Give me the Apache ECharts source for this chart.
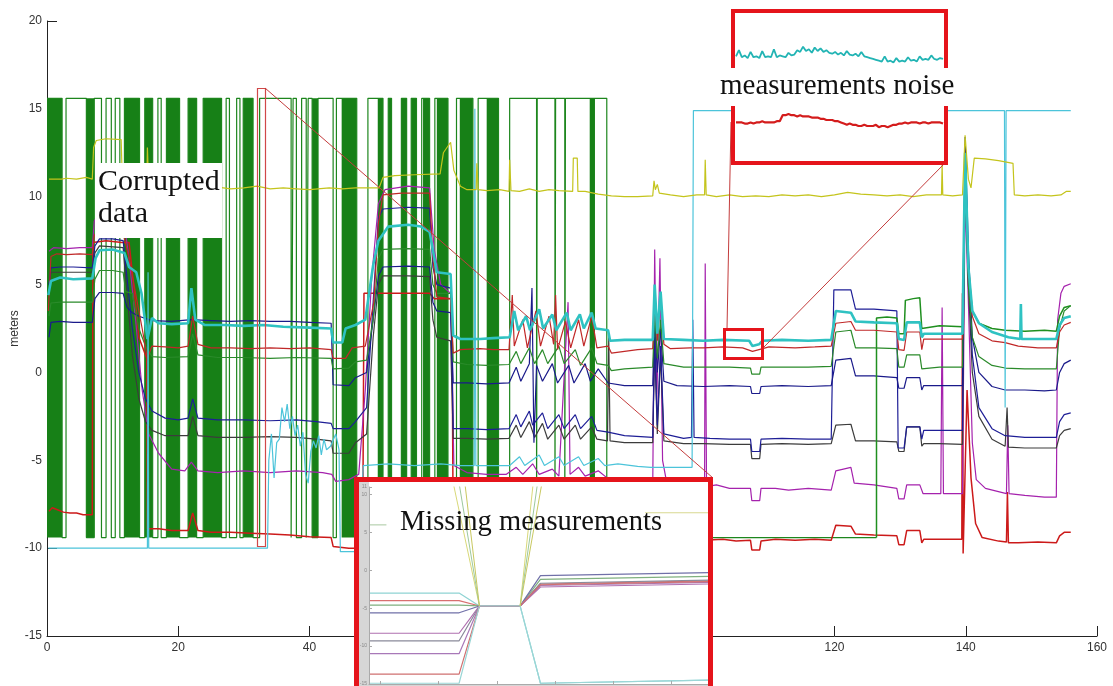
<!DOCTYPE html>
<html>
<head>
<meta charset="utf-8">
<script src="https://cdn.jsdelivr.net/npm/echarts@6/dist/echarts.min.js"></script>
<style>
html,body{margin:0;padding:0;background:#fff;}
#chart{width:1113px;height:686px;}
</style>
</head>
<body>
<div id="chart"></div>
<script>
// ---------- main plot data (x: time, y: meters) ----------
const corruptHigh = 15.6;
const corruptLow = -9.4;

// corrupted sensor: level holds from each x until the next entry
const corruptSteps = [[0,15.6],[2.3,-9.4],[2.9,15.6],[6.0,-9.4],[7.2,15.6],[8.3,-9.4],[9.0,15.6],[9.8,-9.4],[10.4,15.6],[11.1,-9.4],[11.8,15.6],[14.1,-9.4],[14.9,15.6],[16.1,-9.4],[16.9,15.6],[17.4,-9.4],[18.2,15.6],[20.2,-9.4],[21.5,15.6],[22.8,-9.4],[23.8,15.6],[26.6,-9.4],[27.3,15.6],[27.8,-9.4],[28.9,15.6],[29.4,-9.4],[29.9,15.6],[31.4,-9.4],[32.4,15.6],[37.2,-9.4],[37.5,15.6],[38.0,-9.4],[38.8,15.6],[39.5,-9.4],[39.8,15.6],[40.4,-9.4],[41.3,15.6],[43.6,-9.4],[44.1,15.6],[47.2,-9.4],[48.9,15.6],[51.2,-9.4],[52.0,15.6],[52.5,-9.4],[54.0,15.6],[54.8,-9.4],[55.5,15.6],[56.3,-9.4],[57.1,15.6],[58.3,-9.4],[59.1,15.6],[61.1,-9.4],[62.4,15.6],[64.9,-9.4],[65.7,15.6],[68.8,-9.4],[70.5,15.6],[74.6,-9.4],[74.7,15.6],[77.4,-9.4],[77.5,15.6],[78.9,-9.4],[79.0,15.6],[85.3,-9.4],[126.4,-9.4]];

// stretches where the corrupted sensor toggles too fast to resolve
const corruptBursts = [[0,2.3],[6.0,7.2],[11.8,14.1],[14.9,16.1],[18.2,20.2],[21.5,22.8],[23.8,26.6],[29.9,31.4],[40.4,41.3],[44.9,47.2],[50.4,51.2],[52.0,52.5],[54.0,54.8],[55.5,56.3],[57.3,58.3],[59.4,61.1],[62.9,64.9],[67.0,68.8],[82.7,83.5]];

// same sensor once it recovers
const greenRecovered = [[126.4,-9.4],[126.4,3.1],[128,3.15],[129.5,3.1],[129.8,2.2],[130.6,2.2],[130.8,4.1],[132,4.2],[133,4.25],[133.3,2.5],[133.6,2.6],[136,2.65],[139.5,2.6],[139.9,11.5],[140.4,6],[141,3.5],[142,2.8],[144,2.5],[146,2.4],[149,2.35],[152,2.4],[153.8,2.35],[154.3,3.2],[155,3.7],[156,3.8]];

const yellowTrack = [[0.3,11.0],[2.2,11.0],[3,11.05],[4.5,11.0],[6,11.1],[6.9,11.0],[7.1,12.8],[7.5,13.2],[9,13.3],[11.3,13.25],[11.5,10.7],[14,10.6],[15.2,10.6],[15.3,12.8],[15.5,10.6],[18,10.6],[22,10.5],[26,10.55],[28,10.45],[30,10.5],[32,10.6],[34,10.45],[36,10.5],[38,10.45],[40,10.4],[43,10.5],[45,10.45],[47,10.5],[50.6,10.5],[51.2,11.1],[53,11.2],[56,11.25],[59.9,11.3],[60.4,12.5],[61.5,13.1],[62,11.5],[63,10.6],[64,10.4],[65.4,10.4],[65.5,11.9],[65.7,10.4],[67,10.35],[69,10.4],[70.4,10.3],[70.5,12.1],[70.7,10.35],[72,10.3],[73.5,10.45],[75,10.3],[76.5,10.4],[78,10.35],[80.1,10.3],[80.2,12.2],[80.8,12.2],[80.9,10.3],[82,10.3],[84,10.15],[86,10.05],[88,10.0],[90,10.0],[92.3,10.05],[92.5,10.9],[92.7,10.4],[93,10.7],[93.3,10.2],[95,10.1],[97,10.0],[99,10.1],[100.2,10.1],[100.3,12.1],[100.45,10.1],[102,10.0],[104,10.1],[106,10.0],[108,10.05],[110,10.0],[112,10.1],[114,10.05],[116,10.1],[118,10.0],[120,10.1],[122,10.25],[124,10.15],[126,10.1],[128,10.05],[130,10.1],[132,10.0],[134,10.1],[136.3,10.1],[136.4,11.8],[136.5,10.1],[138,10.05],[139.5,10.1],[139.9,13.5],[140.4,11],[140.8,10.5],[141.3,12.2],[143,12.15],[145,12.05],[147.2,11.9],[147.4,10.1],[149,10.05],[151,10.1],[153,10.05],[154.5,10.1],[155.3,10.3],[156,10.3]];

const cyanThick = [[0.2,4.4],[0.6,5.2],[2,5.4],[4,5.3],[6.9,5.35],[7.4,6.5],[8,6.95],[10,7.0],[11.8,6.8],[12.5,6],[13.6,5.7],[14.4,4.5],[15.3,1.9],[16,3.1],[17,2.8],[19,2.75],[21.5,2.8],[22,4.8],[22.6,3.0],[24,2.7],[27,2.7],[30,2.65],[33,2.7],[36,2.6],[40,2.55],[43.3,2.5],[43.6,1.7],[45,1.7],[45.5,2.5],[47,2.7],[48.5,3],[49.7,6.1],[50.5,7.5],[52,8.3],[55,8.4],[57,8.3],[58.3,8.0],[59.4,5.7],[61.5,5.6],[61.9,2.1],[63,1.9],[66,1.9],[68,1.95],[70.5,2.0],[71.2,3.5],[71.8,2.4],[73,3.2],[73.6,2.4],[75,3.6],[75.6,2.5],[77,3.3],[77.6,2.4],[79.2,3.4],[79.8,2.4],[81.2,3.3],[81.8,2.5],[83,3.4],[83.6,2.5],[85.5,2.4],[85.8,1.8],[88,1.85],[91,1.85],[92.3,1.85],[92.6,5],[93,2.2],[93.5,4.6],[94,1.9],[97,1.85],[100,1.8],[103,1.85],[107,1.8],[107.5,1.5],[108.5,1.6],[109,1.8],[112,1.85],[116,1.8],[119.5,1.85],[120.2,3.5],[122.5,3.4],[123.2,2.9],[126,2.85],[129.5,2.8],[129.8,1.9],[130.6,1.85],[131,2.85],[133,2.85],[133.3,2.0],[133.6,2.2],[136,2.2],[139.5,2.2],[139.9,12.5],[140.4,6],[141,3.5],[142,2.8],[144,2.3],[146.5,2.0],[148.3,1.9],[148.4,3.9],[148.5,1.9],[151,1.9],[153.8,1.9],[154.3,2.7],[155,3.1],[156,3.2]];

const cyanThin = [[0.2,-10],[5,-10],[10,-10],[15.3,-10],[15.4,5.7],[15.5,-10],[20,-10],[25,-10],[30,-10],[33.6,-10],[33.8,-5],[34.2,-3.5],[34.6,-6],[35,-4],[35.4,-3.8],[35.8,-2],[36.2,-2.8],[36.6,-1.8],[37,-3.2],[37.4,-2.5],[37.8,-3.6],[38.2,-3.0],[38.6,-4.2],[39,-3.4],[39.4,-5.8],[39.8,-6.3],[40.2,-4.5],[40.6,-3.9],[41,-4.3],[41.4,-3.6],[41.8,-4.7],[42.2,-3.8],[42.6,-4.4],[43.2,-4.2],[44,-3.5],[44.5,-4.4],[44.7,-10.2],[47.5,-10.2],[48.2,-5.3],[52,-5.2],[56,-5.3],[60,-5.2],[63,-5.3],[65.1,-5.3],[65.2,15],[65.35,-5.3],[68,-5.3],[70.5,-5.3],[72,-4.8],[72.8,-5.3],[75,-4.7],[75.8,-5.3],[78,-4.8],[78.8,-5.3],[81,-4.8],[81.8,-5.3],[84,-4.9],[85,-5.3],[87,-5.2],[90,-5.35],[92,-5.4],[95,-5.4],[98.3,-5.4],[98.5,14.9],[110,14.9],[120,14.9],[130,14.9],[140,14.9],[145.9,14.9],[146,-2],[146.15,14.9],[150,14.9],[156,14.9]];

const redUpper = [[0.2,3.5],[0.6,6.6],[1.5,6.75],[3,6.7],[5,6.75],[6.9,6.7],[7.2,7.8],[8,8.2],[10,8.3],[11.5,8.1],[12.5,6.5],[13.5,4.5],[14.5,2.5],[15.3,0.8],[16,1.5],[18,1.45],[20,1.4],[21.5,1.5],[22.2,3.2],[23,1.6],[25,1.4],[28,1.4],[31,1.35],[34,1.4],[37,1.35],[40,1.4],[43.3,1.3],[43.6,0.8],[45.5,0.8],[46.5,1.4],[48.5,1.5],[49.8,4],[50.5,8.5],[51.2,10.1],[54,10.2],[58.3,10.2],[58.8,6.5],[59.4,4.3],[61.5,4.2],[61.9,1.1],[63,1.3],[66,1.35],[68,1.3],[70.4,1.3],[70.9,4.4],[71.2,1.5],[72.5,3],[73.2,1.4],[74.5,3.5],[75.2,1.5],[76.5,3.2],[77.2,1.6],[77.5,4.4],[77.8,1.3],[79,2.9],[79.8,1.4],[81,3.0],[81.8,1.5],[83,3.2],[83.8,1.4],[85.5,1.5],[86,1.1],[88,1.2],[90,1.3],[92.3,1.35],[92.6,4.5],[93,1.8],[93.5,4.2],[94,1.6],[95,1.35],[98,1.4],[100,1.4],[103,1.45],[106,1.4],[107.5,1.2],[108.5,1.3],[110,1.45],[114,1.4],[117,1.45],[119.5,1.5],[120.2,2.8],[122.5,2.9],[123.2,2.4],[126,2.4],[129.5,2.3],[129.8,1.3],[130.6,1.25],[131,2.3],[133,2.3],[133.3,1.3],[133.6,1.9],[136,1.9],[139.5,1.9],[139.9,11.5],[140.4,6],[141,3.2],[142,2.2],[144,1.8],[146,1.7],[148,1.5],[151,1.4],[153.8,1.4],[154.3,2.3],[155,2.7],[156,2.85]];

const greenLevel = [[0.3,3.2],[0.6,3.95],[2,4.0],[4,4.0],[6.9,4.0],[7.3,5.3],[8,5.8],[10,5.8],[11.6,5.7],[12,4.6],[13,4.5],[14,2.5],[15,1.5],[16,0.9],[18,0.85],[21.5,0.9],[22.2,2.2],[23,1.0],[26,0.85],[30,0.85],[34,0.8],[38,0.85],[43.3,0.8],[43.6,0.2],[46,0.25],[47,0.6],[48.7,0.7],[49.7,3],[50.5,6.5],[51.2,7.0],[55,7.05],[58.3,7.0],[58.8,5],[59.4,4.5],[61.5,4.5],[61.9,0.6],[64,0.45],[67,0.4],[70.4,0.45],[71.5,1.2],[72.2,0.5],[73.5,1.4],[74.3,0.5],[75.5,1.3],[76.3,0.5],[78,1.5],[78.8,0.5],[80.5,1.3],[81.3,0.4],[83,1.4],[83.8,0.5],[85.5,0.4],[86,0.1],[88,0.2],[92.3,0.3],[92.6,3.5],[93,0.8],[93.5,3],[94,0.5],[97,0.3],[100,0.3],[104,0.3],[107.2,0.25],[107.4,-0.1],[108.6,-0.1],[108.8,0.3],[112,0.3],[116,0.3],[119.5,0.35],[120.2,2.3],[122.5,2.4],[123.2,1.4],[126,1.4],[129.5,1.35],[129.8,0.3],[130.6,0.3],[131,1.0],[133,1.0],[133.3,0.2],[133.6,0.3],[136,0.3],[139.5,0.3],[139.9,11],[140.4,5],[141,2],[142,0.9],[144,0.4],[146,0.25],[149,0.2],[152,0.2],[153.8,0.2],[154.3,2.5],[155,3.5],[156,3.8]];

const navyUpper = [[0.3,2.0],[0.6,2.85],[2,2.9],[4,2.85],[6.9,2.85],[7.3,4.2],[8,4.55],[10,4.55],[11.6,4.5],[12.2,3.7],[13,3.4],[14,3.2],[16,2.95],[19,2.9],[22,3.0],[25,2.95],[28,2.9],[31,2.95],[34,2.9],[37,2.9],[40,2.85],[43.3,2.8],[43.6,-0.7],[46,-0.75],[47,-0.3],[48.7,0],[49.7,3],[50.5,5.5],[51.2,6.0],[55,6.05],[58.3,6.0],[58.8,4],[59.4,3.5],[61.5,3.4],[61.9,-0.6],[64,-0.6],[67,-0.65],[70.4,-0.6],[71.5,0.3],[72.2,-0.5],[73.5,0.5],[73.9,4.8],[74.2,-4],[74.6,0.4],[75.5,-0.5],[77,0.5],[77.8,-0.6],[79.5,0.4],[80.3,-0.6],[82,0.5],[82.8,-0.5],[84,0.2],[85.5,-0.6],[88,-0.75],[92.3,-0.75],[92.6,3],[93,0],[93.5,2.5],[94,-0.5],[96,-0.75],[100,-0.8],[104,-0.75],[107.2,-0.8],[107.4,-1.2],[108.6,-1.2],[108.8,-0.8],[112,-0.75],[116,-0.8],[119.5,-0.75],[120.2,0.7],[122.5,0.8],[123.2,-0.2],[126,-0.2],[129.5,-0.3],[129.8,-0.9],[130.6,-0.9],[131,-0.3],[133,-0.3],[133.3,-1],[133.6,-0.75],[136,-0.75],[139.5,-0.75],[139.9,13.4],[140.4,7],[141,2],[142,0],[144,-0.8],[146,-1.0],[149,-1.0],[152,-1.05],[153.8,-1.0],[154.3,0],[155,0.5],[156,0.7]];

const navyLower = [[0.3,5],[0.6,5.95],[2,6.0],[4,6.0],[6.9,5.95],[7.3,7.2],[8,7.6],[10,7.6],[11.6,7.5],[12.3,5],[13,2.5],[14,0],[15,-1.5],[16,-2.2],[18,-2.6],[20,-2.7],[21.5,-2.6],[22.2,-1.5],[23,-2.6],[26,-2.7],[30,-2.7],[34,-2.75],[38,-2.7],[41,-2.8],[43.3,-2.9],[43.6,-3.2],[46,-3.2],[47,-2.8],[48.7,-2],[49.7,4],[50.5,8.8],[51.2,9.3],[55,9.4],[58.3,9.35],[58.8,6],[59.4,5],[61.5,4.8],[61.9,-3.2],[64,-3.2],[67,-3.25],[70.4,-3.2],[71.5,-2.4],[72.2,-3.1],[73.5,-2.2],[74,-3],[75.5,-2.3],[76.3,-3.2],[78,-2.4],[78.8,-3.2],[80.5,-2.4],[81.3,-3.2],[83,-2.5],[83.8,-3.3],[85.5,-3.4],[88,-3.6],[92.3,-3.7],[92.6,2],[93,-3],[93.5,1.5],[94,-3.5],[97,-3.75],[98.2,-3.7],[98.4,3],[98.6,-3.7],[101,-3.75],[104,-3.8],[107.2,-3.8],[107.4,-4.5],[108.6,-4.5],[108.8,-3.8],[112,-3.75],[116,-3.8],[119.5,-3.8],[119.9,4.7],[122.5,4.7],[123.2,3.6],[126,3.6],[129.5,3.5],[129.7,-4.3],[130.6,-4.3],[131,-3.1],[133,-3.1],[133.3,-3.8],[133.6,-3.3],[136,-3.3],[139.5,-3.3],[139.9,13],[140.4,6],[141,1],[142,-2],[144,-3.2],[146,-3.6],[149,-3.7],[152,-3.7],[153.8,-3.7],[154.3,-2.8],[155,-2.4],[156,-2.3]];

const greyTrack = [[0.3,5],[0.6,5.7],[3,5.7],[6.9,5.7],[7.3,6.8],[8,7.2],[11.6,7.1],[12.3,4],[13,1],[14,-1.5],[15,-2.8],[16,-3.3],[18,-3.6],[21.5,-3.6],[22.2,-2.5],[23,-3.6],[26,-3.7],[30,-3.7],[34,-3.65],[38,-3.7],[41,-3.8],[43.3,-3.9],[43.6,-4.6],[46,-4.6],[47,-4],[48.7,-3.5],[49.7,2],[50.5,5],[51.2,5.5],[55,5.5],[58.3,5.45],[58.8,3],[59.4,2],[61.5,1.8],[61.9,-3.75],[64,-3.75],[67,-3.8],[70.4,-3.75],[71.5,-3.0],[72.2,-3.7],[73.5,-2.8],[74.3,-3.7],[75.5,-2.9],[76.3,-3.8],[78,-3],[78.8,-3.8],[80.5,-3],[81.3,-3.8],[83,-3.1],[83.8,-3.8],[85.4,-3.9],[85.6,2],[85.8,-3.9],[88,-4],[92.3,-4.0],[92.6,1.5],[93,-3.5],[93.5,1],[94,-3.9],[97,-4.05],[100,-4.05],[104,-4.1],[107.2,-4.1],[107.4,-4.9],[108.6,-4.9],[108.8,-4.1],[112,-4.05],[116,-4.1],[119.5,-4.05],[120.2,-3.0],[122.5,-2.95],[123.2,-3.9],[126,-3.9],[129.5,-3.95],[129.8,-4.5],[130.6,-4.5],[131,-3.1],[133,-3.1],[133.3,-4.2],[133.6,-4.05],[136,-4.05],[139.5,-4.1],[139.9,12],[140.4,5],[141,0],[142,-2.5],[144,-3.8],[146,-4.2],[146.3,-2.0],[146.5,-4.25],[149,-4.3],[152,-4.3],[153.8,-4.3],[154.3,-3.6],[155,-3.3],[156,-3.2]];

const magentaTrack = [[0.3,6.9],[1,7.1],[3,7.05],[5,7.1],[6.9,7.1],[7.2,8.6],[8,9.2],[10,9.3],[11.5,9.2],[12.5,6.5],[13.5,3],[14.5,-1],[15.5,-3.5],[17,-4.6],[19,-5.5],[21,-5.6],[22,-5.1],[23,-5.6],[26,-5.7],[30,-5.6],[34,-5.7],[38,-5.6],[42,-5.7],[43.4,-5.8],[44,-6.2],[46,-6.1],[47.5,-5.8],[48.5,-1],[49.5,5.5],[50.5,9.6],[51.5,10.4],[55,10.6],[58.3,10.5],[59,7],[60,5],[61.5,4.5],[62,-5.3],[64,-5.7],[67,-5.8],[70,-5.8],[71.5,-5.4],[72.5,-5.8],[74,-5.2],[75,-5.8],[77,-5.5],[78,-5.9],[79.4,4.0],[79.7,-5.8],[81,-5.4],[82,-5.9],[84,-5.6],[86,-6.2],[88,-6.5],[90,-6.6],[92.3,-6.6],[92.6,7],[92.9,-2],[93.4,6.5],[93.8,-5],[94.5,-6.4],[97,-6.6],[99,-6.6],[100.2,-6.6],[100.3,6.2],[100.5,-6.5],[102,-6.4],[104,-6.6],[106,-6.6],[107.2,-6.6],[107.4,-7.3],[108.6,-7.3],[108.8,-6.6],[111,-6.6],[113,-6.7],[116,-6.6],[119.5,-6.7],[120.2,-5.6],[122.5,-5.4],[123,-6.3],[126,-6.4],[129.5,-6.6],[129.8,-7.2],[130.6,-7.2],[131,-6.4],[133,-6.4],[133.5,-6.9],[136.2,-6.9],[136.4,3.7],[136.6,-6.9],[139.5,-6.9],[139.9,10],[140.4,4],[141,-4],[141.6,-6.1],[143,-6.6],[146.2,-6.9],[146.4,-3],[146.6,-6.9],[149,-7.0],[152,-7.1],[153.8,-7.1],[154,3],[154.5,4.5],[155,4.9],[156,5.05]];

const redLower = [[0.3,-7.9],[0.8,-7.7],[1.5,-7.8],[2.5,-7.95],[3.5,-8.0],[4.5,-8.0],[5.5,-8.1],[6.9,-8.1],[7.0,7.4],[9,7.5],[11.4,7.4],[12.5,7.4],[13.2,5],[14,2],[15.2,0.8],[15.3,-8.9],[17,-8.9],[19,-9.0],[21.5,-9.0],[22.2,-8.0],[23,-9.0],[25,-9.1],[28,-9.1],[31,-9.15],[34,-9.2],[37,-9.25],[40,-9.35],[43.3,-9.4],[43.6,-9.9],[46,-10.0],[48.1,-10.0],[48.3,4.5],[51,4.5],[55,4.5],[58.3,4.5],[59,4.2],[61.7,4.2],[61.9,-9.5],[65,-9.5],[70,-9.45],[75,-9.5],[80,-9.5],[86,-9.5],[90,-9.55],[95,-9.5],[100,-9.55],[103,-9.5],[105,-9.6],[107.2,-9.55],[107.4,-10.1],[108.6,-10.1],[108.8,-9.6],[111,-9.5],[114,-9.55],[117,-9.5],[119.5,-9.55],[120.2,-8.7],[122.5,-8.75],[123.2,-9.2],[126,-9.25],[129.5,-9.3],[129.8,-9.8],[130.6,-9.8],[131,-9.0],[133,-9.0],[133.3,-9.7],[133.6,-9.5],[136,-9.5],[139.4,-9.5],[139.5,4.5],[139.6,-10.3],[140.2,-1],[140.8,-6],[141.5,-8.6],[142.5,-9.4],[145,-9.6],[146.2,-9.65],[146.35,-6.8],[146.5,-9.7],[148,-9.7],[151,-9.65],[153.8,-9.7],[154.3,-9.3],[155,-9.1],[156,-9.1]];

// ---------- zoomed view of the gap ----------
const gapLevels = [
  {left:-3.0, right:-14.9, color:'#8fd3d3'},
  {left:-4.0, right:-1.8, color:'#d87070'},
  {left:-4.6, right:-1.2, color:'#7fb07f'},
  {left:-5.6, right:-0.7, color:'#7070a8'},
  {left:-8.3, right:-2.2, color:'#b070b0'},
  {left:-9.3, right:-1.7, color:'#8a8a9a'},
  {left:-11.0, right:-2.0, color:'#a878b8'},
  {left:-13.7, right:-1.9, color:'#d07070'},
  {left:-14.9, right:-14.9, color:'#9ad6d6'}
];
const gapTimes = [15.4316, 15.4347, 15.4354, 15.4368, 15.4375, 15.4433];
const gapMeet = -4.7;
const gapRisersLeft = [
  [[15.4345,11.5],[15.4354,-4.7]],
  [[15.4347,11.5],[15.4354,-4.7]],
  [[15.4349,11.5],[15.4354,-4.7]]
];
const gapRisersRight = [
  [[15.4368,-4.7],[15.43725,11.5]],
  [[15.4368,-4.7],[15.4374,11.5]],
  [[15.4368,-4.7],[15.43755,11.5]]
];
const gapOlive = [[15.4316,6.0],[15.4322,6.0]];
const gapYellow = [[15.4411,7.6],[15.4433,7.6]];

// ---------- zoomed view of the noise (x ≈ 103–109) ----------
const cyanNoise = [1.86,1.93,1.85,1.87,1.84,1.91,1.85,1.86,1.84,1.92,1.85,1.86,1.85,1.94,1.85,1.87,1.86,1.85,1.90,1.87,1.88,1.93,1.91,1.97,1.92,1.94,1.90,1.96,1.92,1.95,1.91,1.93,1.90,1.89,1.91,1.88,1.90,1.87,1.92,1.88,1.87,1.89,1.86,1.91,1.86,1.85,1.84,1.83,1.82,1.81,1.80,1.86,1.80,1.81,1.79,1.84,1.80,1.81,1.80,1.85,1.81,1.82,1.80,1.86,1.82,1.83,1.82,1.87,1.83,1.82,1.84,1.83];
const redNoise = [1.38,1.38,1.38,1.37,1.37,1.38,1.37,1.38,1.38,1.39,1.38,1.38,1.38,1.38,1.39,1.39,1.44,1.44,1.45,1.44,1.44,1.43,1.44,1.43,1.43,1.43,1.42,1.42,1.42,1.41,1.41,1.40,1.40,1.40,1.39,1.39,1.38,1.37,1.36,1.37,1.36,1.36,1.35,1.35,1.36,1.35,1.35,1.35,1.36,1.34,1.35,1.35,1.34,1.35,1.36,1.36,1.37,1.37,1.38,1.37,1.38,1.38,1.38,1.37,1.38,1.38,1.37,1.38,1.38,1.38,1.38,1.37];

// ---------- build ----------
const chart = echarts.init(document.getElementById('chart'), null, {renderer:'canvas'});
const ANNOT_RED = '#e5141b';
const LINK_RED = '#c43c3c';

function track(data, color, width, grid, z) {
  return {
    type:'line', data:data, xAxisIndex:grid||0, yAxisIndex:grid||0,
    showSymbol:false, symbol:'none', silent:true, animation:false,
    lineStyle:{color:color, width:width}, itemStyle:{color:color}, z:z||2
  };
}

const series = [];
// corrupted sensor: edges + bursts
series.push(Object.assign(track(corruptSteps, '#1d861d', 1.2, 0, 1), {step:'end'}));
series.push({
  type:'custom', data:corruptBursts, xAxisIndex:0, yAxisIndex:0, z:1, silent:true, animation:false,
  encode:{x:[0,1]},
  renderItem:function(params, api){
    const a = api.coord([api.value(0), corruptHigh]);
    const b = api.coord([api.value(1), corruptLow]);
    return {type:'rect', shape:{x:a[0], y:a[1], width:Math.max(1, b[0]-a[0]), height:b[1]-a[1]}, style:{fill:'#178017'}};
  }
});
series.push(track(redLower, '#cc1a1a', 1.5));
series.push(track(magentaTrack, '#a522ad', 1.2));
series.push(track(greyTrack, '#3c3c3c', 1.2));
series.push(track(navyLower, '#1e1e96', 1.2));
series.push(track(navyUpper, '#1a1a8a', 1.2));
series.push(track(greenLevel, '#2a8a2a', 1.2));
series.push(track(greenRecovered, '#1f8f1f', 1.5));
series.push(track(redUpper, '#c02828', 1.2));
series.push(track(cyanThin, '#4cc4da', 1.2));
series.push(track(cyanThick, '#2fc2c2', 2.6));
series.push(track(yellowTrack, '#c4c41c', 1.2));

// gap view
gapLevels.forEach(function(g){
  series.push(track([[gapTimes[0],g.left],[gapTimes[1],g.left],[gapTimes[2],gapMeet],[gapTimes[3],gapMeet],[gapTimes[4],g.right],[gapTimes[5],g.right+0.4]], g.color, 1.2, 1, 20));
});
const riserColors = ['#d8d878','#9cc89c','#c8c860'];
gapRisersLeft.forEach(function(r,i){ series.push(track(r, riserColors[i], 1, 1, 20)); });
gapRisersRight.forEach(function(r,i){ series.push(track(r, riserColors[i], 1, 1, 20)); });
series.push(track(gapOlive, '#a8c8a0', 1, 1, 20));
series.push(track(gapYellow, '#d8d890', 1, 1, 20));

// noise view
series.push(track(cyanNoise.map(function(v,i){return [i,v];}), '#22b4b4', 1.8, 2, 20));
series.push(track(redNoise.map(function(v,i){return [i,v];}), '#d41c1c', 2.2, 3, 20));

const axisFont = {color:'#333', fontSize:12, fontFamily:'Liberation Sans, Arial, sans-serif'};
const fixedGrid = {containLabel:false, outerBoundsMode:'none'};

const option = {
  backgroundColor:'#ffffff',
  animation:false,
  grid:[
    Object.assign({left:47, top:21, right:16, bottom:50}, fixedGrid),
    Object.assign({left:369, top:487, width:340, height:197}, fixedGrid),
    Object.assign({left:736, top:44, width:207, height:22}, fixedGrid),
    Object.assign({left:736, top:108, width:207, height:24}, fixedGrid)
  ],
  xAxis:[
    {gridIndex:0, type:'value', min:0, max:160, interval:20,
     axisLine:{onZero:false, lineStyle:{color:'#222', width:1}},
     axisTick:{show:true, inside:true, length:10, lineStyle:{color:'#222'}},
     axisLabel:Object.assign({margin:6}, axisFont), splitLine:{show:false}},
    {gridIndex:1, type:'value', min:15.4316, max:15.4433, splitNumber:6, z:21,
     axisLine:{onZero:false, lineStyle:{color:'#aaa'}},
     axisTick:{show:true, inside:true, length:3, lineStyle:{color:'#aaa'}},
     axisLabel:{fontSize:5, color:'#888', margin:2, showMinLabel:false, showMaxLabel:false},
     splitLine:{show:false}},
    {gridIndex:2, type:'value', min:0, max:71, show:false},
    {gridIndex:3, type:'value', min:0, max:71, show:false}
  ],
  yAxis:[
    {gridIndex:0, type:'value', min:-15, max:20, interval:5,
     name:'meters', nameLocation:'middle', nameGap:26, nameRotate:90, nameMoveOverlap:false,
     nameTextStyle:{color:'#333', fontSize:12, fontFamily:'Liberation Sans, Arial, sans-serif'},
     axisLine:{show:true, onZero:false, lineStyle:{color:'#222', width:1}},
     axisTick:{show:true, inside:true, length:10, lineStyle:{color:'#222'}},
     axisLabel:Object.assign({margin:5}, axisFont), splitLine:{show:false}},
    {gridIndex:1, type:'value', min:-15, max:11, interval:5, z:21,
     axisLine:{show:true, onZero:false, lineStyle:{color:'#aaa'}},
     axisTick:{show:true, inside:true, length:3, lineStyle:{color:'#aaa'}},
     axisLabel:{fontSize:5, color:'#888', margin:2},
     splitLine:{show:false}},
    {gridIndex:2, type:'value', min:1.75, max:2.0, show:false},
    {gridIndex:3, type:'value', min:1.30, max:1.50, show:false}
  ],
  series:series,
  graphic:[
    // thin outline around the gap interval and its link to the zoomed view
    {type:'rect', z:24, silent:true, shape:{x:257.5, y:88.5, width:8, height:458}, style:{fill:'none', stroke:'#d04848', lineWidth:1.2}},
    {type:'line', z:24, silent:true, shape:{x1:265, y1:88, x2:713, y2:478}, style:{stroke:LINK_RED, lineWidth:1}},
    // zoomed view of the gap
    {type:'rect', z:15, silent:true, shape:{x:356, y:479, width:355, height:210}, style:{fill:'#ffffff'}},
    {type:'rect', z:15, silent:true, shape:{x:357, y:479, width:12, height:210}, style:{fill:'#d6d6d6'}},
    {type:'rect', z:15, silent:true, shape:{x:357, y:684, width:354, height:5}, style:{fill:'#d6d6d6'}},
    {type:'rect', z:30, silent:true, shape:{x:356.5, y:479.5, width:354, height:220}, style:{fill:'none', stroke:ANNOT_RED, lineWidth:5}},
    {type:'text', z:31, silent:true, style:{text:'Missing measurements', x:400, y:523, font:'28.5px "Liberation Serif", "Times New Roman", serif', fill:'#111', verticalAlign:'middle'}},
    // small box around the noisy stretch and its links
    {type:'rect', z:25, silent:true, shape:{x:724.5, y:329.5, width:38, height:29}, style:{fill:'none', stroke:ANNOT_RED, lineWidth:3}},
    {type:'line', z:24, silent:true, shape:{x1:727, y1:329, x2:731, y2:122}, style:{stroke:LINK_RED, lineWidth:1}},
    {type:'line', z:24, silent:true, shape:{x1:763, y1:348, x2:945, y2:163}, style:{stroke:LINK_RED, lineWidth:1}},
    // zoomed view of the noise
    {type:'rect', z:15, silent:true, shape:{x:733, y:11, width:213, height:152}, style:{fill:'#ffffff'}},
    {type:'rect', z:25, silent:true, shape:{x:733, y:11, width:213, height:152}, style:{fill:'none', stroke:ANNOT_RED, lineWidth:4}},
    {type:'rect', z:26, silent:true, shape:{x:718, y:68, width:236, height:38}, style:{fill:'#ffffff'}},
    {type:'text', z:27, silent:true, style:{text:'measurements noise', x:720, y:86, font:'29px "Liberation Serif", "Times New Roman", serif', fill:'#111', verticalAlign:'middle'}},
    // label over the corrupted stretch
    {type:'rect', z:15, silent:true, shape:{x:95, y:163, width:127, height:75}, style:{fill:'#ffffff'}},
    {type:'text', z:27, silent:true, style:{text:'Corrupted', x:98, y:182, font:'30px "Liberation Serif", "Times New Roman", serif', fill:'#111', verticalAlign:'middle'}},
    {type:'text', z:27, silent:true, style:{text:'data', x:98, y:214, font:'30px "Liberation Serif", "Times New Roman", serif', fill:'#111', verticalAlign:'middle'}}
  ]
};
chart.setOption(option);
</script>
</body>
</html>
